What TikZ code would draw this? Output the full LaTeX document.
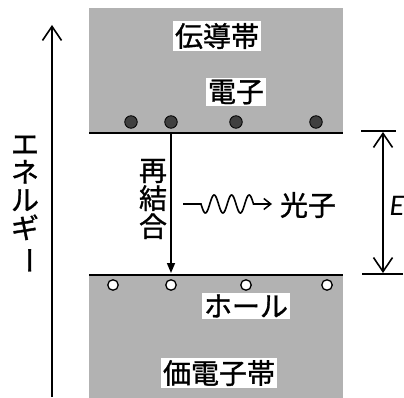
\documentclass[tikz,border=0pt]{standalone}
\usepackage{fontspec}
\newfontfamily\jp[FakeBold=1.1]{Noto Sans CJK JP}
\newfontfamily\lat{Carlito}
\usetikzlibrary{arrows.meta}
\begin{document}
\begin{tikzpicture}[x=1pt,y=-1pt,
  band/.style={fill=black!30,draw=none},
  edge/.style={line width=2pt},
  lbl/.style={fill=white,inner sep=2pt,font=\jp\fontsize{28}{28}\selectfont},
  vlbl/.style={inner sep=0pt,align=center,font=\jp\fontsize{28}{28}\selectfont},
  elec/.style={circle,fill=black!75,draw=black,line width=0.8pt,minimum size=12.5pt,inner sep=0pt},
  hole/.style={circle,fill=white,draw=black,line width=1.3pt,minimum size=10.5pt,inner sep=0pt},
  barbtip/.tip={Straight Barb[length=14pt,width=19pt,line width=1.6pt]},
  thick1/.style={line width=1.8pt}]
\useasboundingbox (0,0) rectangle (404,398);
% bands
\fill[band] (89,8) rectangle (343,133);
\fill[band] (89,275) rectangle (343,398);
\coordinate (cbL) at (89,133); \coordinate (cbR) at (343,133);
\coordinate (vbL) at (89,275); \coordinate (vbR) at (343,275);
\draw[edge] (cbL) -- (cbR);
\draw[edge] (vbL) -- (vbR);
% labels in bands
\node[lbl] (cb) at (217,36) {伝導帯};
\node[lbl] (el) at (236,92) {電子};
\node[lbl] (ho) at (246,306) {ホール};
\node[lbl] (vb) at (219,373) {価電子帯};
% electrons and holes
\node[elec] (e1) at (131,122) {};
\node[elec] (e2) at (171,122) {};
\node[elec] (e3) at (236,122) {};
\node[elec] (e4) at (316,122) {};
\node[hole] (h1) at (113,285) {};
\node[hole] (h2) at (171,285) {};
\node[hole] (h3) at (246,285) {};
\node[hole] (h4) at (327,285) {};
% energy axis
\coordinate (eb) at (52,397);
\coordinate (et) at (52,25);
\draw[thick1,-{barbtip}] (eb) -- (et);
\node[vlbl] (en) at (25,205) {エ\\ネ\\ル\\ギ\\\rotatebox[origin=c]{-90}{ー}};
% recombination
\coordinate (r1) at (171,133);
\coordinate (r2) at (171,273);
\draw[line width=1.5pt,-{Triangle[length=10pt,width=8pt]}] (r1) -- (r2);
\node[vlbl] (rc) at (153,199) {再\\結\\合};
% photon
\coordinate (p1) at (183,204);
\coordinate (p2) at (272,204);
\draw[line width=1.6pt,-{Straight Barb[length=7pt,width=11pt,line width=1.5pt]}]
  (p1) -- (201,204) -- plot[domain=0:3,samples=90,smooth] ({201+17.5*\x},{204+9*sin(360*\x)}) -- (p2);
\node[vlbl] (ph) at (308,205) {光子};
% band gap E
\coordinate (t1) at (361,131); \coordinate (t2) at (396,131);
\coordinate (b1) at (362,274); \coordinate (b2) at (403,274);
\draw[line width=1.3pt] (t1) -- (t2);
\draw[line width=1.3pt] (b1) -- (b2);
\coordinate (g1) at (383,132); \coordinate (g2) at (383,273);
\draw[thick1,{barbtip}-{barbtip}] (g1) -- (g2);
\node[font=\lat\itshape\fontsize{30}{30}\selectfont,inner sep=0pt] (E) at (397,206) {E};
\end{tikzpicture}
\end{document}
